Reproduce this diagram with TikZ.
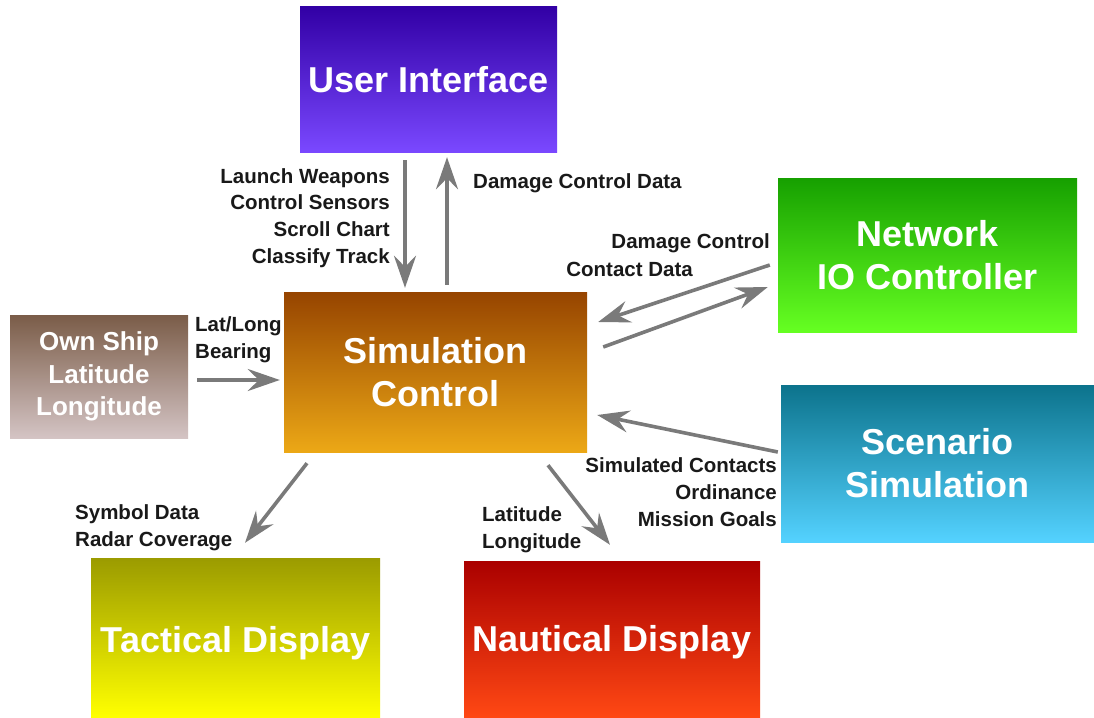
\documentclass[tikz,border=0pt]{standalone}
\usepackage{fontspec}
\setmainfont{Liberation Sans}
\usetikzlibrary{arrows.meta,calc}

\tikzset{
  box/.style={rectangle, inner sep=0pt, text=white, align=center,
    font=\bfseries\fontsize{36}{43}\selectfont},
  smallbox/.style={box, font=\bfseries\fontsize{26}{32.5}\selectfont},
  lbl/.style={inner sep=0pt, text=black!90, font=\bfseries\fontsize{20.5}{26.7}\selectfont},
  arr/.style={draw=black!52, line width=3.6pt,
    -{Stealth[length=32pt,width=22pt,inset=11pt]}},
}

\begin{document}
\begin{tikzpicture}[x=1pt,y=-1pt]
\useasboundingbox[fill=white] (0,0) rectangle (1094,717);

% blocks
\node[box, minimum width=257pt, minimum height=145pt,
  top color={rgb,255:red,50;green,0;blue,165}, bottom color={rgb,255:red,122;green,72;blue,255}]
  (ui) at (428.5,79.5) {User Interface};
\node[box, minimum width=303pt, minimum height=160pt,
  top color={rgb,255:red,150;green,68;blue,0}, bottom color={rgb,255:red,236;green,168;blue,22}]
  (sim) at (435.5,372) {Simulation\\Control};
\node[box, minimum width=299pt, minimum height=154pt,
  top color={rgb,255:red,22;green,160;blue,0}, bottom color={rgb,255:red,102;green,255;blue,34}]
  (net) at (927.5,255) {Network\\IO Controller};
\node[box, minimum width=313pt, minimum height=157pt,
  top color={rgb,255:red,12;green,115;blue,140}, bottom color={rgb,255:red,84;green,210;blue,255}]
  (scen) at (937.5,463.5) {Scenario\\Simulation};
\node[smallbox, minimum width=178pt, minimum height=123pt,
  top color={rgb,255:red,122;green,92;blue,72}, bottom color={rgb,255:red,212;green,196;blue,196}]
  (own) at (99,376.5) {Own Ship\\Latitude\\Longitude};
% the two display blocks run off the lower edge, so their titles sit a little low
\node[box, minimum width=289pt, minimum height=159pt,
  top color={rgb,255:red,155;green,155;blue,0}, bottom color={rgb,255:red,255;green,255;blue,0}]
  (tac) at (235.5,637.5) {\raisebox{-15.4pt}[0pt][0pt]{Tactical Display}};
\node[box, minimum width=296pt, minimum height=156pt,
  top color={rgb,255:red,170;green,0;blue,0}, bottom color={rgb,255:red,255;green,72;blue,20}]
  (naut) at (612,639) {\raisebox{-12.9pt}[0pt][0pt]{Nautical Display}};

% connectors
\draw[arr] ($(ui.south)+(-23.5,8)$) -- ($(sim.north)+(-30.5,-4)$);
\draw[arr] ($(sim.north)+(11.5,-7)$) -- ($(ui.south)+(18.5,5)$);
\draw[arr] ($(net.west)+(-8,10)$) -- ($(sim.east)+(11,-50)$);
\draw[arr] ($(sim.east)+(16,-25)$) -- ($(net.west)+(-10,32)$);
\draw[arr] ($(own.east)+(9,3.5)$) -- ($(sim.west)+(-4,8)$);
\draw[arr] ($(scen.west)+(-3,-11.5)$) -- ($(sim.east)+(10,43)$);
\draw[arr] ($(sim.south)+(-128.5,11)$) -- ($(tac.north)+(9.5,-15)$);
\draw[arr] ($(sim.south)+(112.5,13)$) -- ($(naut.north)+(-2,-16)$);

% labels
\node[lbl, align=right, anchor=east] (l-ui) at (390,218)
  {Launch Weapons\\Control Sensors\\Scroll Chart\\Classify Track};
\node[lbl, anchor=west] (l-dcd) at (473,183) {Damage Control Data};
\node[lbl, anchor=east] (l-dc) at (770,243) {Damage Control};
\node[lbl, anchor=east] (l-cd) at (693,269) {Contact Data};
\node[lbl, align=left, anchor=west] (l-own) at (195,340) {Lat/Long\\Bearing};
\node[lbl, align=right, anchor=east] (l-scen) at (777,492)
  {Simulated Contacts\\Ordinance\\Mission Goals};
\node[lbl, align=left, anchor=west] (l-tac) at (75,527.5) {Symbol Data\\Radar Coverage};
\node[lbl, align=left, anchor=west] (l-naut) at (482,529.5) {Latitude\\Longitude};
\end{tikzpicture}
\end{document}
